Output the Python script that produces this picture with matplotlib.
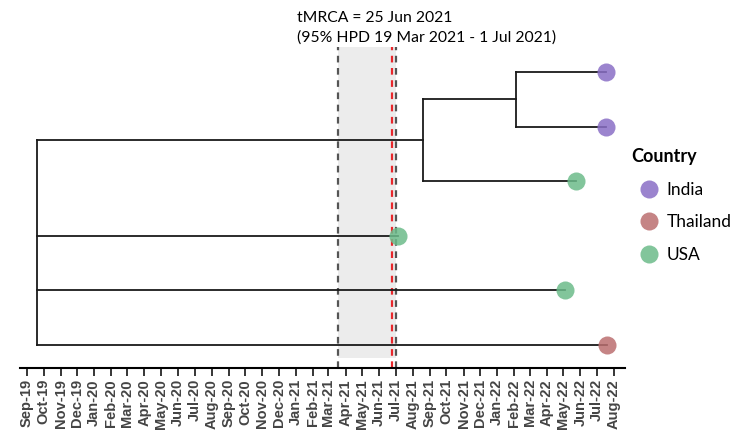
import matplotlib
matplotlib.use('Agg')
import matplotlib.pyplot as plt
import matplotlib.dates as mdates
from matplotlib.lines import Line2D
import pandas as pd

# tips, top to bottom
tip_ids = ['t0', 't1', 't2', 't3', 't4', 't5']
tip_country = ['India', 'India', 'USA', 'USA', 'USA', 'Thailand']
tip_dates = ['2022-07-17', '2022-07-17', '2022-05-24', '2021-07-05', '2022-05-04', '2022-07-19']

# internal nodes
node_ids = ['root', 'n1', 'n2']
node_dates = ['2019-09-19', '2021-08-19', '2022-02-04']
node_children = [['n1', 't3', 't4', 't5'], ['n2', 't2'], ['t0', 't1']]

tmrca = '2021-06-25'
hpd_low = '2021-03-19'
hpd_high = '2021-07-01'

country_names = ['India', 'Thailand', 'USA']
country_colors = ['#8a6fc6', '#bb6f70', '#6cbb8a']

months = pd.date_range('2019-09-01', '2022-08-01', freq='MS')

dates = {}
for t, d in zip(tip_ids, tip_dates):
    dates[t] = mdates.date2num(pd.Timestamp(d))
for n, d in zip(node_ids, node_dates):
    dates[n] = mdates.date2num(pd.Timestamp(d))
children = dict(zip(node_ids, node_children))

ypos = {t: i for i, t in enumerate(tip_ids)}
def get_y(n):
    if n in ypos:
        return ypos[n]
    ys = [get_y(c) for c in children[n]]
    ypos[n] = (ys[0] + ys[-1]) / 2 if n != 'root' else ys[0]
    return ypos[n]
get_y('root')

fig = plt.figure(figsize=(7.37, 4.32), dpi=100)
ax = fig.add_axes([20 / 737, 1 - 368 / 432, 605 / 737, 321 / 432])

# HPD shading + lines
x_lo = mdates.date2num(pd.Timestamp(hpd_low))
x_hi = mdates.date2num(pd.Timestamp(hpd_high))
x_t = mdates.date2num(pd.Timestamp(tmrca))
ax.axvspan(x_lo, x_hi, ymin=0.031, ymax=1, color='#ececec', lw=0, zorder=0)
ax.axvline(x_lo, color='#555555', lw=1.6, ls=(0, (3, 2.5)), zorder=1)
ax.axvline(x_hi, color='#555555', lw=1.6, ls=(0, (3, 2.5)), zorder=1)
ax.axvline(x_t, color='#e8262b', lw=1.6, ls=(0, (3, 2.5)), zorder=1)

# tree branches
for n in node_ids:
    cy = [ypos[c] for c in children[n]]
    ax.plot([dates[n], dates[n]], [min(cy), max(cy)], color='#1a1a1a', lw=1.3, solid_capstyle='projecting', zorder=2)
    for c in children[n]:
        ax.plot([dates[n], dates[c]], [ypos[c], ypos[c]], color='#1a1a1a', lw=1.3, zorder=2)

# tips
cmap = dict(zip(country_names, country_colors))
for t, c in zip(tip_ids, tip_country):
    ax.plot(dates[t], ypos[t], 'o', ms=13, color=cmap[c], alpha=0.85, mec='none', zorder=3)

# axes
pxday = 587 / (months[-1] - months[0]).days
x0 = mdates.date2num(months[0]) - 7 / pxday
x1 = mdates.date2num(months[-1]) + 11 / pxday
ax.set_xlim(x0, x1)
ax.set_ylim(5 + 23 / 54.6, -25 / 54.6)
for s in ['top', 'right', 'left']:
    ax.spines[s].set_visible(False)
ax.spines['bottom'].set_linewidth(1.5)
ax.set_yticks([])
ax.set_xticks(mdates.date2num(months))
ax.set_xticklabels([m.strftime('%b-%y') for m in months], rotation=90,
                   fontsize=10.5, fontweight='bold', color='#444444', family='Liberation Sans')
ax.tick_params(axis='x', length=6, width=1.1, pad=2)

fig.text(297 / 737, 1 - 18 / 432, 'tMRCA = 25 Jun 2021', fontsize=11.3, family='Lato', va='center')
fig.text(297 / 737, 1 - 38 / 432, '(95% HPD 19 Mar 2021 - 1 Jul 2021)', fontsize=11.3, family='Lato', va='center')

handles = [Line2D([], [], marker='o', ls='', ms=13, color=c, alpha=0.85, mec='none') for c in country_colors]
leg = fig.legend(handles, country_names, title='Country', loc='upper left',
                 bbox_to_anchor=(619 / 737, 1 - 136 / 432), frameon=False,
                 prop={'family': 'Lato', 'size': 12.5}, handletextpad=0.05,
                 labelspacing=0.95, borderpad=0.2)
leg.get_title().set_fontweight('bold')
leg.get_title().set_fontsize(13)
leg.get_title().set_family('Lato')
leg._legend_box.align = 'left'

fig.savefig('out.png', dpi=100)
